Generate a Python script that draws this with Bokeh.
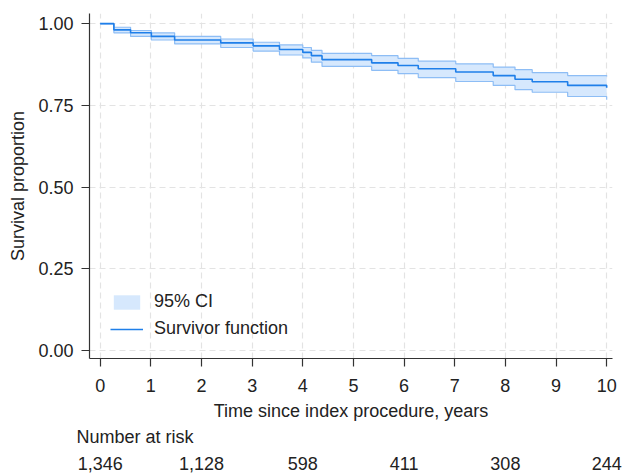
from bokeh.plotting import figure
from bokeh.models import (Range1d, FixedTicker, Legend, LegendItem, NumeralTickFormatter,
                          LinearAxis, Title)
from bokeh.embed import file_html
from bokeh.resources import INLINE

# ---- data ----
times = [0.0, 0.27, 0.60, 1.01, 1.47, 2.38, 3.02, 3.54, 4.00, 4.17, 4.38,
         5.36, 5.88, 6.28, 7.02, 7.76, 8.19, 8.53, 9.23, 10.0]
surv = [1.0, 0.981, 0.972, 0.961, 0.950, 0.941, 0.932, 0.921, 0.912, 0.902, 0.890,
        0.880, 0.872, 0.862, 0.852, 0.841, 0.830, 0.822, 0.811, 0.804]
upper = [1.0, 0.989, 0.979, 0.972, 0.961, 0.953, 0.943, 0.935, 0.927, 0.918, 0.909,
         0.902, 0.894, 0.885, 0.877, 0.867, 0.859, 0.850, 0.841, 0.838]
lower = [1.0, 0.972, 0.961, 0.950, 0.938, 0.927, 0.916, 0.904, 0.895, 0.882, 0.869,
         0.857, 0.847, 0.835, 0.823, 0.811, 0.798, 0.790, 0.777, 0.767]

x_ticks = [0, 1, 2, 3, 4, 5, 6, 7, 8, 9, 10]
y_ticks = [0.0, 0.25, 0.5, 0.75, 1.0]
risk_times = [0, 2, 4, 6, 8, 10]
risk_counts = ["1,346", "1,128", "598", "411", "308", "244"]

FONT = "Liberation Sans"
TXT = "#222222"
FS = "18px"

p = figure(width=622, height=473, output_backend="svg", toolbar_location=None,
           x_range=Range1d(-0.211, 10.115), y_range=Range1d(-0.0245, 1.031),
           min_border_left=89, min_border_right=10, min_border_top=13, min_border_bottom=115)
p.outline_line_color = None
p.background_fill_color = "white"
p.border_fill_color = "white"

band = p.varea_step(x=times, y1=lower, y2=upper, step_mode="after", fill_color="#d6e8fd")
p.step(times, upper, mode="after", line_color="#8dbdf5", line_width=1.2)
p.step(times, lower, mode="after", line_color="#8dbdf5", line_width=1.2)
line = p.step(times, surv, mode="after", line_color="#1f7fe9", line_width=1.6)

for ax in (p.xaxis[0], p.yaxis[0]):
    ax.axis_line_color = "#333333"
    ax.axis_line_width = 1.2
    ax.major_tick_line_color = "#333333"
    ax.major_tick_line_width = 1.2
    ax.major_tick_in = 0
    ax.major_tick_out = 8
    ax.minor_tick_line_color = None
    ax.major_label_text_font = FONT
    ax.major_label_text_font_size = FS
    ax.major_label_text_color = TXT
    ax.axis_label_text_font = FONT
    ax.axis_label_text_font_size = FS
    ax.axis_label_text_color = TXT
    ax.axis_label_text_font_style = "normal"

p.xaxis.ticker = FixedTicker(ticks=x_ticks)
p.yaxis.ticker = FixedTicker(ticks=y_ticks)
p.yaxis.formatter = NumeralTickFormatter(format="0.00")
p.xaxis.axis_label = "Time since index procedure, years"
p.yaxis.axis_label = "Survival proportion"
p.xaxis.major_label_standoff = 12
p.yaxis.major_label_standoff = 8
p.xaxis.axis_label_standoff = 6
p.yaxis.axis_label_standoff = 7

for g in (p.xgrid[0], p.ygrid[0]):
    g.grid_line_color = "#e3e3e3"
    g.grid_line_dash = "6 4"
    g.grid_line_width = 1.2

legend = Legend(items=[LegendItem(label="95% CI", renderers=[band]),
                       LegendItem(label="Survivor function", renderers=[line])],
                location=(21, 19), glyph_width=33, glyph_height=18, label_standoff=11,
                spacing=6, padding=0, margin=0, border_line_color=None,
                background_fill_alpha=0, label_text_font=FONT, label_text_font_size=FS,
                label_text_color=TXT, label_height=18)
p.add_layout(legend)

# ---- number-at-risk table below the x axis ----
nar_title = Title(text="Number at risk", align="left", offset=-13, standoff=3,
                  text_font=FONT, text_font_size=FS, text_color=TXT,
                  text_font_style="normal")
p.add_layout(nar_title, "below")

risk_axis = LinearAxis(ticker=FixedTicker(ticks=risk_times),
                       major_label_overrides={t: c for t, c in zip(risk_times, risk_counts)})
risk_axis.axis_line_color = None
risk_axis.major_tick_line_color = None
risk_axis.minor_tick_line_color = None
risk_axis.major_tick_in = 0
risk_axis.major_tick_out = 0
risk_axis.major_label_standoff = 8
risk_axis.major_label_text_font = FONT
risk_axis.major_label_text_font_size = FS
risk_axis.major_label_text_color = TXT
p.add_layout(risk_axis, "below")

open("out.html", "w").write(file_html(p, INLINE))
